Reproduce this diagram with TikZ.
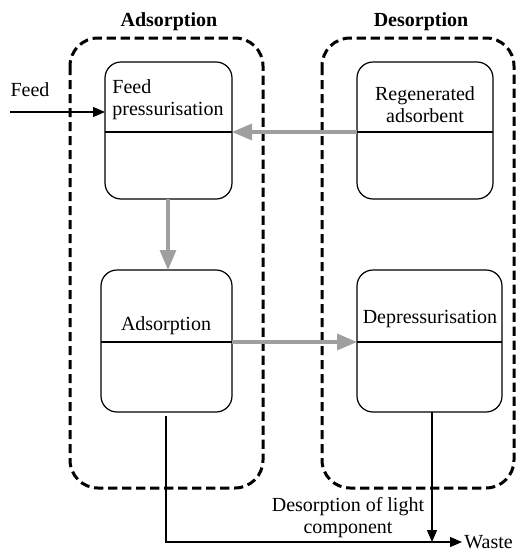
\documentclass[tikz,border=0pt]{standalone}
\usepackage{fontspec}
\setmainfont{Liberation Serif}
\usetikzlibrary{arrows.meta}

\begin{document}
\begin{tikzpicture}[x=0.5pt, y=-0.5pt, >=Triangle,
    group/.style = {draw, line width=1.5pt, dash pattern=on 4.6pt off 2.4pt, rounded corners=14pt},
    stage/.style = {draw, line width=0.6pt, rounded corners=8pt},
    flow/.style = {->, draw=gray!75, line width=1.6pt, -{Triangle[length=10pt, width=8pt]}},
    pipe/.style = {->, line width=0.6pt, -{Triangle[length=6pt, width=5pt]}},
    txt/.style = {font=\fontsize{10pt}{11pt}\selectfont, align=center, inner sep=1pt}]
    \useasboundingbox (0,0) rectangle (517,552);

    % Groups
    \draw[group] (70,38) rectangle (263,488);
    \draw[group] (322,38) rectangle (514,488);
    \node[txt, font=\bfseries\fontsize{10pt}{11pt}\selectfont] (adstitle) at (169,22) {Adsorption};
    \node[txt, font=\bfseries\fontsize{10pt}{11pt}\selectfont] (destitle) at (421,22) {Desorption};

    % Nodes
    \draw[stage] (105,62) rectangle (232,199);
    \draw[stage] (357,62) rectangle (493,199);
    \draw[stage] (101,270) rectangle (232,412);
    \draw[stage] (357,270) rectangle (502,412);
    \draw[line width=0.6pt] (105,132) -- (232,132);
    \draw[line width=0.6pt] (357,132) -- (493,132);
    \draw[line width=0.6pt] (101,342) -- (232,342);
    \draw[line width=0.6pt] (357,342) -- (502,342);

    \node[txt, align=left, anchor=west] (fp) at (110,100) {Feed\\pressurisation};
    \node[txt] (ra) at (425,105) {Regenerated\\adsorbent};
    \node[txt] (ad) at (166,326) {Adsorption};
    \node[txt] (dp) at (430,319) {Depressurisation};
    \node[txt] (feed) at (30,90) {Feed};
    \node[txt, anchor=west] (waste) at (462,542) {Waste};
    \node[txt] (light) at (348,518) {Desorption of light\\component};

    \coordinate (fpin) at (105,112);
    \coordinate (feedin) at (10,112);
    \coordinate (fpright) at (232,132);
    \coordinate (raleft) at (357,132);
    \coordinate (fpbot) at (168,199);
    \coordinate (adtop) at (168,270);
    \coordinate (adright) at (232,342);
    \coordinate (dpleft) at (357,342);
    \coordinate (adbot) at (166,416);
    \coordinate (corner) at (166,542);
    \coordinate (dpbot) at (432,412);
    \coordinate (dpout) at (432,542);

    % Edges
    \draw[pipe] (feedin) -- (fpin);
    \draw[flow] (raleft) -- (fpright);
    \draw[flow] (fpbot) -- (adtop);
    \draw[flow] (adright) -- (dpleft);
    \draw[pipe] (adbot) -- (corner) -- (waste.west);
    \draw[pipe] (dpbot) -- (dpout);
\end{tikzpicture}
\end{document}
